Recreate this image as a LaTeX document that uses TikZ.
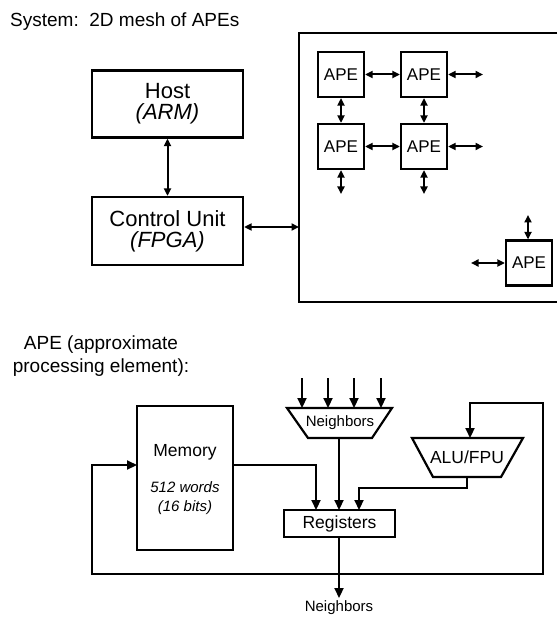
\documentclass[tikz,border=0pt]{standalone}
\usepackage{fontspec}
\setmainfont{Liberation Sans}
\usetikzlibrary{arrows.meta}
\newcommand\fsz[2]{\fontsize{#1}{#2}\selectfont}
\begin{document}
\begin{tikzpicture}[x=1pt,y=-1pt,
  wire/.style={line width=2.2pt},
  box/.style={draw, line width=2.2pt, inner sep=0pt},
  apebox/.style={box, minimum width=46pt, minimum height=45pt, font=\fsz{17}{19}},
  txt/.style={inner sep=0pt},
  arr/.style={line width=2pt, -{Triangle[length=7.5pt,width=7pt]}},
  darr/.style={line width=2pt, {Triangle[length=7.5pt,width=7pt]}-{Triangle[length=7.5pt,width=7pt]}},
  barr/.style={line width=2.2pt, -{Triangle[length=10pt,width=9pt]}}]
\useasboundingbox (0,0) rectangle (557,617);

% ---------- System ----------
\node[txt, anchor=west, font=\fsz{19}{23}] (title) at (10,22) {System:\ \ 2D mesh of APEs};

\node[box, minimum width=151pt, minimum height=67pt, align=center, font=\fsz{22}{21}] (host) at (167.5,104) {Host\\\textit{(ARM)}};
\node[box, minimum width=151pt, minimum height=68pt, align=center, font=\fsz{22}{21}] (cu) at (167.5,231) {Control Unit\\\textit{(FPGA)}};
\draw[darr] (host.south) -- (cu.north);

% mesh frame (right side runs off the page)
\draw[wire] (557,33) -- (299,33) -- (299,302) -- (557,302);
\coordinate (meshL) at (299,227);
\draw[darr] (cu.east |- meshL) -- (meshL);

\node[apebox] (a11) at (341,74.5) {APE};
\node[apebox] (a12) at (424,74.5) {APE};
\node[apebox] (a21) at (341,146.5) {APE};
\node[apebox] (a22) at (424,146.5) {APE};
\node[apebox] (a33) at (529,263) {APE};

\coordinate (e12) at (483,74.5);
\coordinate (e22) at (483,146.5);
\coordinate (s21) at (341,194);
\coordinate (s22) at (424,194);
\coordinate (n33) at (528,215);
\coordinate (w33) at (471,263);

\draw[darr] (a11.east) -- (a12.west);
\draw[darr] (a21.east) -- (a22.west);
\draw[darr] (a12.east) -- (e12);
\draw[darr] (a22.east) -- (e22);
\draw[darr] (a11.south) -- (a21.north);
\draw[darr] (a12.south) -- (a22.north);
\draw[darr] (a21.south) -- (s21);
\draw[darr] (a22.south) -- (s22);
\draw[darr] (n33) -- (n33 |- a33.north);
\draw[darr] (w33) -- (a33.west);

% ---------- APE ----------
\node[txt, align=center, font=\fsz{19}{23}] (apetitle) at (101,356) {APE (approximate\\processing element):};

\node[box, minimum width=96pt, minimum height=144pt] (mem) at (185,478) {};
\node[txt, font=\fsz{17.5}{20}] (memlbl) at (185,452) {Memory};
\node[txt, align=center, font=\fsz{15}{19}\itshape] (memsz) at (185,498.5) {512 words\\(16 bits)};

% Neighbors input trapezoid
\draw[wire] (287,408) -- (392,408) -- (372,438) -- (308,438) -- cycle;
\node[txt, font=\fsz{15}{17}] (nbin) at (340,423) {Neighbors};
\coordinate (nbbot) at (339,438);
\foreach \x/\n in {302/1,328/2,354/3,381/4}{
  \coordinate (in\n) at (\x,378);
  \draw[barr] (in\n) -- (\x,408);
}

% ALU/FPU trapezoid
\draw[wire] (412,438) -- (523,438) -- (501,477) -- (433,477) -- cycle;
\node[txt, font=\fsz{17.5}{20}] (alu) at (467,457) {ALU/FPU};
\coordinate (alutop) at (470,438);
\coordinate (alubot) at (467,477);

\node[box, minimum width=111pt, minimum height=27pt, font=\fsz{17.5}{20}] (reg) at (339.5,523.5) {Registers};

% connectors into registers
\coordinate (memout) at (233,465);
\draw[barr] (memout) -| (316,510);
\draw[barr] (nbbot) -- (339,510);
\draw[barr] (alubot) -- (467,488) -| (359,510);

% registers out
\node[txt, font=\fsz{15}{17}] (nbout) at (339,608) {Neighbors};
\draw[barr] (339,537) -- (339,598);

% feedback loop
\coordinate (jct) at (339,574);
\coordinate (memin) at (137,465);
\draw[barr] (jct) -- (92,574) -- (92,465) -- (memin);
\draw[barr] (jct) -- (543,574) -- (543,403) -- (470,403) -- (alutop);
\end{tikzpicture}
\end{document}
